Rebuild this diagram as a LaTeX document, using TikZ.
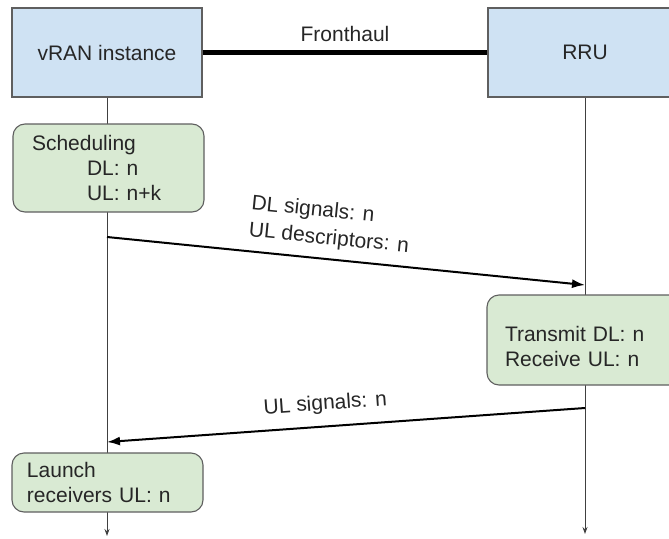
\documentclass[tikz,border=0pt]{standalone}
\usepackage{fontspec}
\setmainfont{Liberation Sans}
\usetikzlibrary{arrows.meta}
\definecolor{boxblue}{HTML}{CFE2F3}
\definecolor{boxgreen}{HTML}{D9EAD3}
\definecolor{edgegray}{HTML}{5F5F5F}

\begin{document}
\begin{tikzpicture}[x=1pt, y=-1pt,
    every node/.style={font=\fontsize{21}{25}\selectfont, text=black!85},
    entity/.style={draw=edgegray, fill=boxblue, line width=1.1pt, minimum height=89pt},
    action/.style={draw=edgegray, fill=boxgreen, line width=1.1pt, rounded corners=12pt, align=left},
    life/.style={draw=black!75, line width=0.9pt, -{Stealth[length=7pt,width=5pt]}},
    msg/.style={line width=2pt, -{Latex[length=13pt,width=9pt]}}]

    \useasboundingbox (0,0) rectangle (669,538);
    \clip (0,0) rectangle (669,538);

    \node[entity, minimum width=190pt] (vran) at (107,52.5) {vRAN instance};
    \node[entity, minimum width=194pt] (rru)  at (585,52.5) {RRU};

    \draw [line width=4.5pt] (vran) -- node[above=5pt] (fronthaul) {Fronthaul} (rru);

    \coordinate (vranend) at (107,536);
    \coordinate (rruend)  at (585,534);
    \draw [life] (vran) -- (vranend);
    \draw [life] (rru) -- (rruend);

    \node[action, minimum width=191pt, minimum height=88pt, inner xsep=19pt, text width=153pt] (sched) at (108.5,168)
        {Scheduling\\\hspace*{55pt}DL: n\\\hspace*{55pt}UL: n+k};
    \node[action, minimum width=196pt, minimum height=90pt, inner xsep=18pt, text width=160pt] (transmit) at (585,340)
        {\rule{0pt}{28pt}Transmit DL: n\\Receive UL: n};
    \node[action, minimum width=191pt, minimum height=59pt, inner xsep=15pt, text width=161pt] (launch) at (107.5,482.5)
        {Launch\\receivers UL: n};

    \coordinate (dlfrom) at (107,237);
    \coordinate (dlto)   at (585,285);
    \coordinate (ulfrom) at (585,408);
    \coordinate (ulto)   at (107,442);

    \draw [msg] (dlfrom) -- node[sloped, above=6pt, pos=0.46, align=left, font=\fontsize{21}{27}\selectfont] (dllabel) {DL signals: n\\UL descriptors: n} (dlto);
    \draw [msg] (ulfrom) -- node[sloped, above=8pt, pos=0.54] (ullabel) {UL signals: n} (ulto);
\end{tikzpicture}
\end{document}
